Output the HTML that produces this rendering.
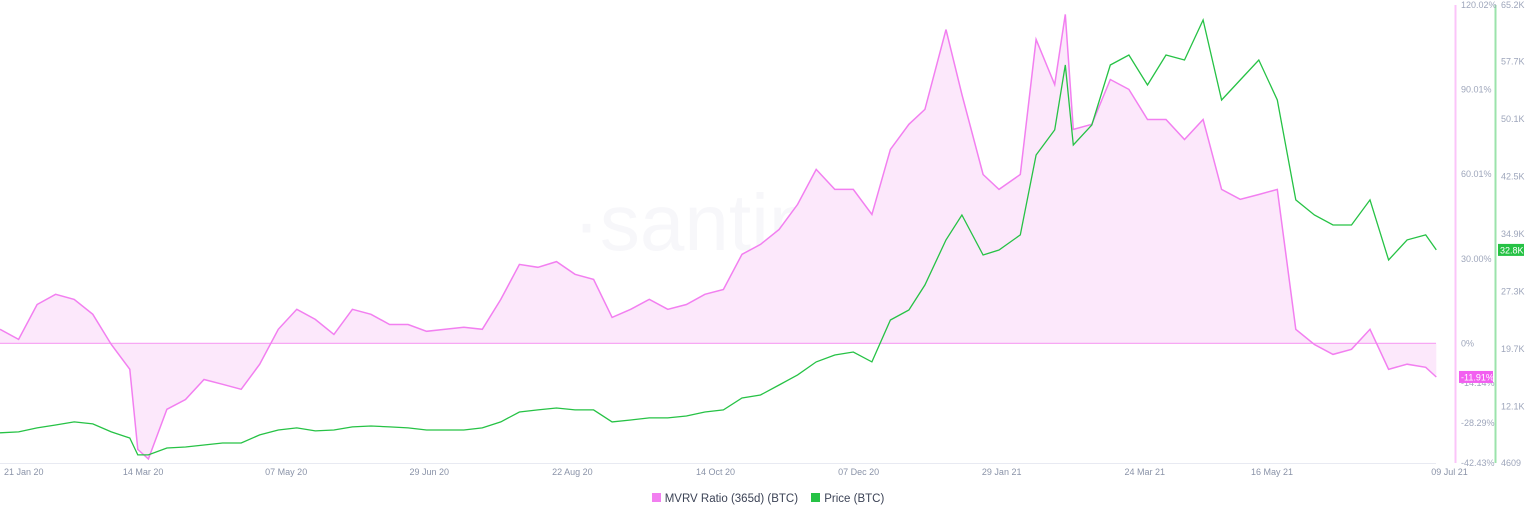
<!DOCTYPE html>
<html><head><meta charset="utf-8"><style>
html,body{margin:0;padding:0;background:#fff;width:1536px;height:520px;overflow:hidden;font-family:"Liberation Sans",sans-serif}
svg text{font-family:"Liberation Sans",sans-serif}
</style></head><body>
<svg id="chart" width="1536" height="520" xmlns="http://www.w3.org/2000/svg">
<text x="760" y="250" font-size="80" fill="#f7f7fa" text-anchor="middle">·santiment</text>
<g id="marks"></g>
</svg>
<script>
const dayOffsets=[0,7,14,21,28,35,42,49,52,56,63,70,77,84,91,98,105,112,119,126,133,140,147,154,161,168,175,182,189,196,203,210,217,224,231,238,245,252,259,266,273,280,287,294,301,308,315,322,329,336,343,349,357,363,371,377,385,391,398,402,405,412,419,426,433,440,447,454,461,468,475,482,489,496,503,510,517,524,531,538,542];
const mvrv=[5,1.4,13.8,17.4,15.6,10.3,-0.4,-9.2,-37.6,-41,-23.4,-19.9,-12.8,-14.5,-16.3,-7.4,5,12.1,8.5,3.2,12.1,10.3,6.7,6.7,4.3,5,5.7,5,15.6,28,27,29,24.5,22.7,9.2,12.1,15.6,12.1,13.8,17.4,19.1,31.6,35.1,40.4,49.3,61.7,54.6,54.6,45.7,68.8,77.7,83,111.3,88.3,59.9,54.6,59.9,107.8,91.8,116.7,75.9,77.7,93.6,90.1,79.4,79.4,72.3,79.4,54.6,51.1,52.8,54.6,5,-0.4,-3.9,-2.1,5,-9.2,-7.4,-8.5,-11.91];
const priceK=[8.6,8.72,9.25,9.64,10.04,9.78,8.72,7.92,5.68,5.68,6.6,6.73,6.99,7.26,7.26,8.32,8.98,9.25,8.85,8.98,9.38,9.51,9.38,9.25,8.98,8.98,8.98,9.25,10.04,11.36,11.63,11.89,11.63,11.63,10.04,10.3,10.57,10.57,10.83,11.36,11.63,13.21,13.61,14.93,16.26,17.98,18.9,19.3,17.98,23.53,24.85,28.16,34.12,37.42,32.13,32.79,34.78,45.36,48.67,57.26,46.68,49.33,57.26,58.59,54.62,58.59,57.92,63.22,52.63,55.28,57.92,52.63,39.41,37.42,36.1,36.1,39.41,31.47,34.12,34.78,32.8];
const xTickDays=[1,54,108,162,216,270,324,378,432,480,547];
const xTickLabels=["21 Jan 20","14 Mar 20","07 May 20","29 Jun 20","22 Aug 20","14 Oct 20","07 Dec 20","29 Jan 21","24 Mar 21","16 May 21","09 Jul 21"];
const mvrvTicks=[120.02,90.01,60.01,30.00,0,-14.14,-28.29,-42.43];
const mvrvTickLabels=["120.02%","90.01%","60.01%","30.00%","0%","-14.14%","-28.29%","-42.43%"];
const priceTicks=[65.2,57.7,50.1,42.5,34.9,27.3,19.7,12.1,4.609];
const priceTickLabels=["65.2K","57.7K","50.1K","42.5K","34.9K","27.3K","19.7K","12.1K","4609"];

const NS="http://www.w3.org/2000/svg";
const g=document.getElementById('marks');
const X=d=>d*2.65;
const Y1=v=>5+(120.02-v)*(458/162.45);
const Y2=p=>5+(65.2-p)*(458/60.591);
function el(t,a,parent){const e=document.createElementNS(NS,t);for(const k in a)e.setAttribute(k,a[k]);(parent||g).appendChild(e);return e;}

const n1=Math.min(dayOffsets.length,mvrv.length);
let pts=[];for(let i=0;i<n1;i++)pts.push(X(dayOffsets[i]).toFixed(1)+','+Y1(mvrv[i]).toFixed(1));
const z=Y1(0);
const area=el('path',{d:'M'+X(dayOffsets[0])+','+z+' L'+pts.join(' L')+' L'+X(dayOffsets[n1-1])+','+z+' Z',fill:'#fce8fb'});


const zl=el('line',{x1:0,x2:1436,y1:z,y2:z,stroke:'#f7a8f4','stroke-width':1.2});


const ax=el('line',{x1:0,x2:1436,y1:463.5,y2:463.5,stroke:'#e8eaf2','stroke-width':1});


const ml=el('polyline',{points:pts.join(' '),fill:'none',stroke:'#f27ff0','stroke-width':1.5});



const n2=Math.min(dayOffsets.length,priceK.length);
let pp=[];for(let i=0;i<n2;i++)pp.push(X(dayOffsets[i]).toFixed(1)+','+Y2(priceK[i]).toFixed(1));
const pl=el('polyline',{points:pp.join(' '),fill:'none',stroke:'#26c245','stroke-width':1.3});



xTickDays.forEach((d,i)=>{const t=el('text',{x:X(d),y:475,'font-size':9,fill:'#8a93a8','text-anchor':i==0?'start':'middle'});
if(i==0)t.setAttribute('x',4);
t.textContent=xTickLabels[i];

});

const a1=el('line',{x1:1455.5,x2:1455.5,y1:5,y2:463,stroke:'#fbc4f9','stroke-width':2});


const a2=el('line',{x1:1495.5,x2:1495.5,y1:5,y2:463,stroke:'#9be3ab','stroke-width':2});


mvrvTicks.forEach((v,i)=>{const t=el('text',{x:1461,y:Y1(v)+3,'font-size':9,fill:'#9ea6bb'});t.textContent=mvrvTickLabels[i];

});
priceTicks.forEach((v,i)=>{const t=el('text',{x:1501,y:Y2(v)+3,'font-size':9,fill:'#9ea6bb'});t.textContent=priceTickLabels[i];

});

const lv=mvrv[n1-1],ly=Y1(lv);
const b1=el('rect',{x:1459,y:ly-6,width:34,height:12,fill:'#f25ff0'});


const t1=el('text',{x:1461,y:ly+3.5,'font-size':9,fill:'#fff'});t1.textContent=lv.toFixed(2)+'%';


const lp=priceK[n2-1],py=Y2(lp);
const b2=el('rect',{x:1498,y:py-6,width:26,height:12,fill:'#26c245'});


const t2=el('text',{x:1500,y:py+3.5,'font-size':9,fill:'#fff'});t2.textContent=lp.toFixed(1)+'K';


</script>
<div style="position:absolute;left:0;top:493px;width:1536px;text-align:center;font-size:11.5px;color:#3c4356">
<span><span style="display:inline-block;width:9px;height:9px;background:#f27ff0;margin-right:4px"></span>MVRV Ratio (365d) (BTC)</span>
<span style="margin-left:10px"><span style="display:inline-block;width:9px;height:9px;background:#26c245;margin-right:4px"></span>Price (BTC)</span>
</div>
</body></html>
